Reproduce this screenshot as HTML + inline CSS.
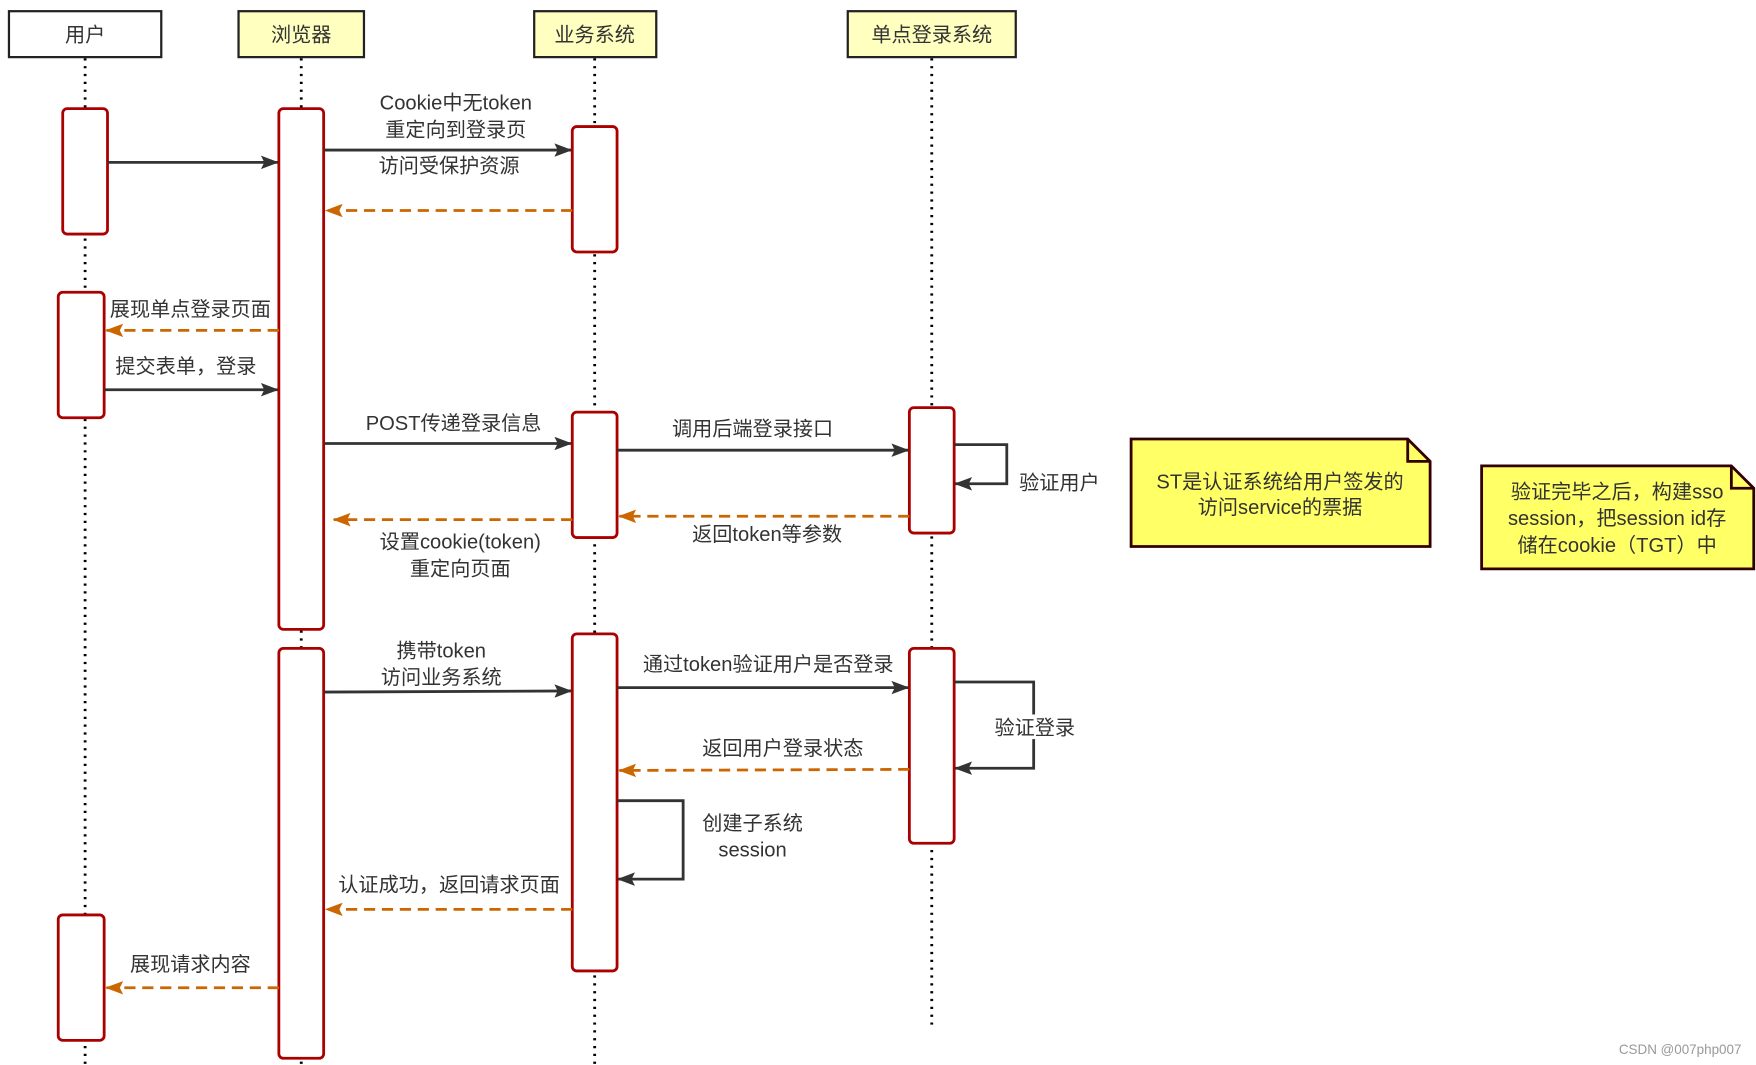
<!DOCTYPE html>
<html><head><meta charset="utf-8"><style>
html,body{margin:0;padding:0;background:#fff;}
svg{display:block}
text{font-family:"Liberation Sans","Noto Sans CJK SC",sans-serif;font-size:18px;fill:#333;text-anchor:middle}
</style></head><body>
<svg width="1756" height="1065" viewBox="0 0 1568 951" preserveAspectRatio="none" xmlns="http://www.w3.org/2000/svg">
<defs>
<marker id="a" markerWidth="16" markerHeight="12" refX="15" refY="6" orient="auto" markerUnits="userSpaceOnUse"><path d="M0,0 L16,6 L0,12 L3,6 Z" fill="#333"/></marker>
<marker id="o" markerWidth="16" markerHeight="12" refX="15" refY="6" orient="auto" markerUnits="userSpaceOnUse"><path d="M0,0 L16,6 L0,12 L3,6 Z" fill="#cc6600"/></marker>
</defs>
<g stroke="#000" stroke-width="2.5" stroke-dasharray="2,5">
<line x1="76" y1="52" x2="76" y2="951"/><line x1="269" y1="52" x2="269" y2="951"/>
<line x1="531" y1="52" x2="531" y2="951"/><line x1="832" y1="52" x2="832" y2="918"/>
</g>
<g stroke="#222" stroke-width="2">
<rect x="8" y="10" width="136" height="41" fill="#fff"/>
<rect x="213" y="10" width="112" height="41" fill="#ffffc0"/>
<rect x="477" y="10" width="109" height="41" fill="#ffffc0"/>
<rect x="757" y="10" width="150" height="41" fill="#ffffc0"/>
</g>
<text x="76" y="37">用户</text><text x="269" y="37">浏览器</text><text x="531" y="37">业务系统</text><text x="832" y="37">单点登录系统</text>
<g stroke="#a00" stroke-width="2.5" fill="#fff">
<rect x="56" y="97" width="40" height="112" rx="4"/>
<rect x="52" y="261" width="41" height="112" rx="4"/>
<rect x="52" y="817" width="41" height="112" rx="4"/>
<rect x="249" y="97" width="40" height="465" rx="4"/>
<rect x="249" y="579" width="40" height="366" rx="4"/>
<rect x="511" y="113" width="40" height="112" rx="4"/>
<rect x="511" y="368" width="40" height="112" rx="4"/>
<rect x="511" y="566" width="40" height="301" rx="4"/>
<rect x="812" y="364" width="40" height="112" rx="4"/>
<rect x="812" y="579" width="40" height="174" rx="4"/>
</g>
<g stroke="#333" stroke-width="2.5" fill="none" marker-end="url(#a)">
<line x1="96" y1="145" x2="248" y2="145"/>
<line x1="289" y1="134" x2="510" y2="134"/>
<line x1="93" y1="348" x2="248" y2="348"/>
<line x1="289" y1="396" x2="510" y2="396"/>
<line x1="551" y1="402" x2="811" y2="402"/>
<polyline points="852,397 899,397 899,432 853,432"/>
<line x1="289" y1="618" x2="510" y2="617"/>
<line x1="551" y1="614" x2="811" y2="614"/>
<polyline points="852,609 923,609 923,686 853,686"/>
<polyline points="551,715 610,715 610,785 552,785"/>
</g>
<g stroke="#cc6600" stroke-width="2.5" fill="none" stroke-dasharray="10,6" marker-end="url(#o)">
<line x1="511" y1="188" x2="291" y2="188"/>
<line x1="249" y1="295" x2="95" y2="295"/>
<line x1="812" y1="461" x2="553" y2="461"/>
<line x1="511" y1="464" x2="298" y2="464"/>
<line x1="812" y1="687" x2="553" y2="688"/>
<line x1="511" y1="812" x2="291" y2="812"/>
<line x1="249" y1="882" x2="95" y2="882"/>
</g>
<rect x="886" y="638" width="76" height="22" fill="#fff"/>
<text x="407" y="98">Cookie中无token</text><text x="407" y="122">重定向到登录页</text><text x="401" y="154">访问受保护资源</text>
<text x="170" y="282">展现单点登录页面</text><text x="166" y="333">提交表单，登录</text>
<text x="405" y="384">POST传递登录信息</text><text x="672" y="389">调用后端登录接口</text>
<text x="946" y="437">验证用户</text><text x="685" y="483">返回token等参数</text>
<text x="411" y="490">设置cookie(token)</text><text x="411" y="514">重定向页面</text>
<text x="394" y="587">携带token</text><text x="394" y="611">访问业务系统</text>
<text x="686" y="599">通过token验证用户是否登录</text><text x="924" y="656">验证登录</text>
<text x="699" y="674">返回用户登录状态</text><text x="672" y="741">创建子系统</text><text x="672" y="765">session</text>
<text x="401" y="796">认证成功，返回请求页面</text><text x="170" y="867">展现请求内容</text>
<g stroke="#330000" stroke-width="2.5" fill="#ffff66">
<path d="M1010,392 L1257,392 L1277,412 L1277,488 L1010,488 Z"/>
<path d="M1257,392 L1257,412 L1277,412" fill="none"/>
<path d="M1323,416 L1546,416 L1566,436 L1566,508 L1323,508 Z"/>
<path d="M1546,416 L1546,436 L1566,436" fill="none"/>
</g>
<text x="1143" y="436">ST是认证系统给用户签发的</text><text x="1143" y="459">访问service的票据</text>
<text x="1444" y="445">验证完毕之后，构建sso</text><text x="1444" y="469">session，把session id存</text><text x="1444" y="493">储在cookie（TGT）中</text>
<text x="1555" y="941" style="font-size:12px;fill:#999;text-anchor:end">CSDN @007php007</text>
</svg>
</body></html>
